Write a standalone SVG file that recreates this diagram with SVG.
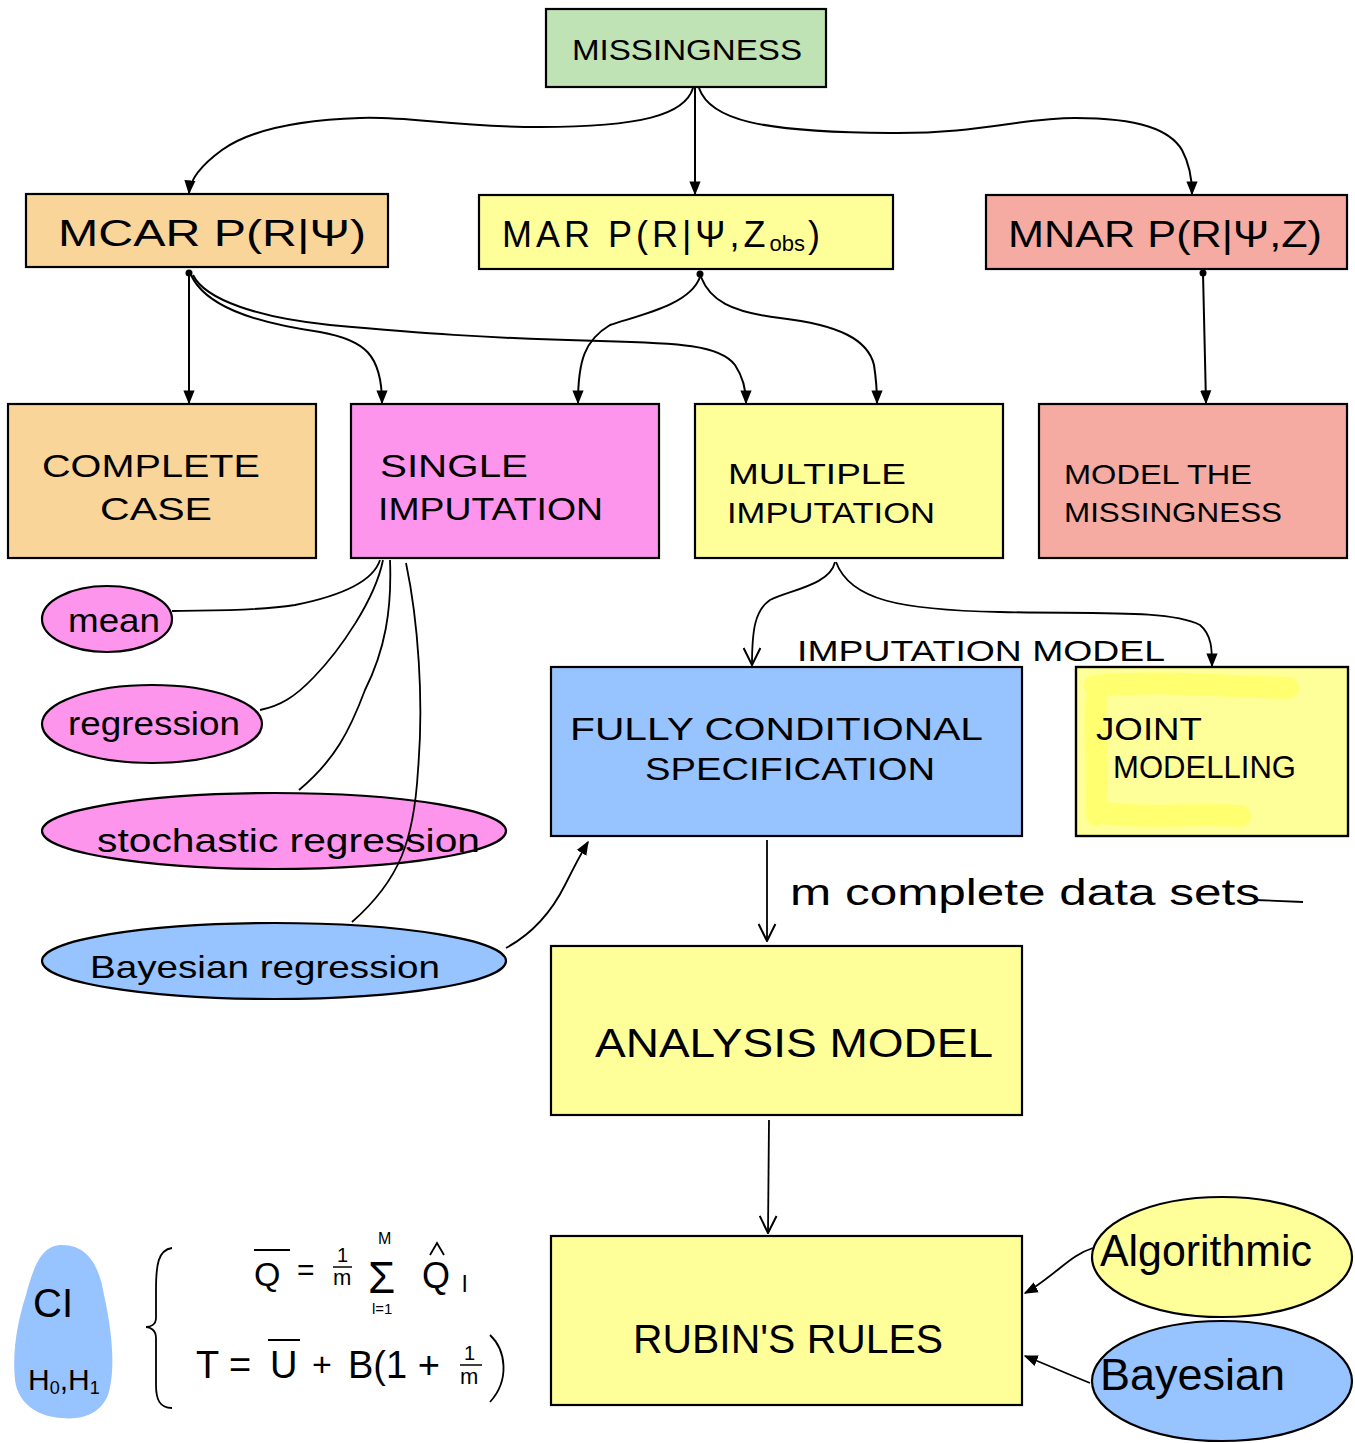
<svg xmlns="http://www.w3.org/2000/svg" width="1355" height="1443" viewBox="0 0 1355 1443">
<style>
.box{stroke:#000;stroke-width:2.2}
.ell{stroke:#000;stroke-width:2.2}
.green{fill:#bfe3b4}.orange{fill:#fad59a}.yellow{fill:#ffff99}.salmon{fill:#f5aba1}.pink{fill:#fe95ec}.blue{fill:#97c3ff}
.t{font-family:"Liberation Sans","DejaVu Sans",sans-serif;fill:#000}
.c{fill:none;stroke:#000;stroke-width:2}
.c2{fill:none;stroke:#000;stroke-width:1.8}
</style>
<defs>
<marker id="af" viewBox="0 0 10 10" refX="9" refY="5" markerWidth="14" markerHeight="14" markerUnits="userSpaceOnUse" orient="auto"><path d="M0,1 L10,5 L0,9 z" fill="#000"/></marker>
<marker id="ao" viewBox="0 0 10 10" refX="9.5" refY="5" markerWidth="20" markerHeight="20" markerUnits="userSpaceOnUse" orient="auto"><path d="M1,0.8 L9.5,5 L1,9.2" fill="none" stroke="#000" stroke-width="1"/></marker>
</defs>
<rect width="1355" height="1443" fill="#fff"/>

<g id="missingness">
<rect class="box green" x="546" y="9" width="280" height="78"/>
<text class="t" x="572" y="60" font-size="30" textLength="230" lengthAdjust="spacingAndGlyphs">MISSINGNESS</text>
</g>
<g id="mcar">
<rect class="box orange" x="26" y="194" width="362" height="73"/>
<text class="t" x="58" y="246" font-size="36" textLength="308" lengthAdjust="spacingAndGlyphs">MCAR  P(R|Ψ)</text>
</g>
<g id="mar">
<rect class="box yellow" x="479" y="195" width="414" height="74"/>
<text class="t" x="502" y="247" font-size="36" letter-spacing="4">MAR  P(R|Ψ,Z<tspan font-size="22" dy="4" letter-spacing="0">obs</tspan><tspan dy="-4" dx="3">)</tspan></text>
</g>
<g id="mnar">
<rect class="box salmon" x="986" y="195" width="361" height="74"/>
<text class="t" x="1008" y="247" font-size="36" textLength="314" lengthAdjust="spacingAndGlyphs">MNAR P(R|Ψ,Z)</text>
</g>
<g id="complete-case">
<rect class="box orange" x="8" y="404" width="308" height="154"/>
<text class="t" x="42" y="477" font-size="32" textLength="218" lengthAdjust="spacingAndGlyphs">COMPLETE</text>
<text class="t" x="100" y="520" font-size="32" textLength="112" lengthAdjust="spacingAndGlyphs">CASE</text>
</g>
<g id="single-imputation">
<rect class="box pink" x="351" y="404" width="308" height="154"/>
<text class="t" x="380" y="477" font-size="32" textLength="148" lengthAdjust="spacingAndGlyphs">SINGLE</text>
<text class="t" x="378" y="520" font-size="32" textLength="225" lengthAdjust="spacingAndGlyphs">IMPUTATION</text>
</g>
<g id="multiple-imputation">
<rect class="box yellow" x="695" y="404" width="308" height="154"/>
<text class="t" x="728" y="484" font-size="30" textLength="178" lengthAdjust="spacingAndGlyphs">MULTIPLE</text>
<text class="t" x="727" y="523" font-size="30" textLength="208" lengthAdjust="spacingAndGlyphs">IMPUTATION</text>
</g>
<g id="model-missingness">
<rect class="box salmon" x="1039" y="404" width="308" height="154"/>
<text class="t" x="1064" y="484" font-size="28" textLength="188" lengthAdjust="spacingAndGlyphs">MODEL THE</text>
<text class="t" x="1064" y="522" font-size="28" textLength="218" lengthAdjust="spacingAndGlyphs">MISSINGNESS</text>
</g>
<g id="mean">
<ellipse class="ell pink" cx="107" cy="619" rx="65" ry="33"/>
<text class="t" x="68" y="632" font-size="34" textLength="92" lengthAdjust="spacingAndGlyphs">mean</text>
</g>
<g id="regression">
<ellipse class="ell pink" cx="152" cy="724" rx="110" ry="39"/>
<text class="t" x="68" y="735" font-size="34" textLength="172" lengthAdjust="spacingAndGlyphs">regression</text>
</g>
<g id="stochastic-regression">
<ellipse class="ell pink" cx="274" cy="831" rx="232" ry="38"/>
<text class="t" x="97" y="852" font-size="34" textLength="383" lengthAdjust="spacingAndGlyphs">stochastic regression</text>
</g>
<g id="bayesian-regression">
<ellipse class="ell blue" cx="274" cy="961" rx="232" ry="38"/>
<text class="t" x="90" y="978" font-size="32" textLength="350" lengthAdjust="spacingAndGlyphs">Bayesian regression</text>
</g>
<g id="fcs">
<rect class="box blue" x="551" y="667" width="471" height="169"/>
<text class="t" x="570" y="740" font-size="32" textLength="413" lengthAdjust="spacingAndGlyphs">FULLY CONDITIONAL</text>
<text class="t" x="645" y="780" font-size="32" textLength="290" lengthAdjust="spacingAndGlyphs">SPECIFICATION</text>
</g>
<g id="joint-modelling">
<rect class="box yellow" x="1076" y="667" width="272" height="169"/>
<path d="M1095,686 C1150,680 1220,686 1288,688 M1096,700 C1094,740 1098,780 1097,815 M1096,812 C1150,820 1200,812 1240,816" stroke="#ffff6a" stroke-width="22" stroke-linecap="round" fill="none" opacity="0.9"/>
<rect x="1076" y="667" width="272" height="169" fill="none" stroke="#000" stroke-width="2.2"/>
<text class="t" x="1096" y="740" font-size="32" textLength="106" lengthAdjust="spacingAndGlyphs">JOINT</text>
<text class="t" x="1113" y="778" font-size="32" textLength="183" lengthAdjust="spacingAndGlyphs">MODELLING</text>
</g>
<g id="analysis-model">
<rect class="box yellow" x="551" y="946" width="471" height="169"/>
<text class="t" x="595" y="1057" font-size="40" textLength="398" lengthAdjust="spacingAndGlyphs">ANALYSIS MODEL</text>
</g>
<g id="rubins-rules">
<rect class="box yellow" x="551" y="1236" width="471" height="169"/>
<text class="t" x="633" y="1353" font-size="40" textLength="310" lengthAdjust="spacingAndGlyphs">RUBIN'S RULES</text>
</g>
<g id="algorithmic">
<ellipse class="ell yellow" cx="1222" cy="1257" rx="130" ry="60"/>
<text class="t" x="1100" y="1266" font-size="44" textLength="212" lengthAdjust="spacingAndGlyphs">Algorithmic</text>
</g>
<g id="bayesian">
<ellipse class="ell blue" cx="1222" cy="1381" rx="130" ry="60"/>
<text class="t" x="1100" y="1390" font-size="44" textLength="185" lengthAdjust="spacingAndGlyphs">Bayesian</text>
</g>

<g id="ci-blob">
<path class="blue" d="M62,1245 C90,1245 100,1270 104,1295 C112,1330 116,1370 108,1395 C100,1415 80,1420 62,1418 C40,1417 18,1405 15,1380 C12,1350 18,1320 26,1295 C34,1265 42,1245 62,1245 Z"/>
<text class="t" x="33" y="1317" font-size="40">CI</text>
<text class="t" x="28" y="1390" font-size="30">H<tspan font-size="18" dy="4">0</tspan><tspan dy="-4">,H</tspan><tspan font-size="18" dy="4">1</tspan></text>
</g>

<g id="formulas">
<path class="c2" d="M172,1248 C158,1250 156,1265 156,1290 L156,1318 C156,1325 150,1327 146,1327 C150,1327 156,1330 156,1338 L156,1385 C156,1400 160,1408 172,1408"/>
<text class="t" x="254" y="1286" font-size="34">Q</text>
<line x1="254" y1="1250" x2="290" y2="1250" stroke="#000" stroke-width="2"/>
<text class="t" x="297" y="1280" font-size="30">=</text>
<text class="t" x="337" y="1262" font-size="20">1</text>
<line x1="333" y1="1267" x2="352" y2="1267" stroke="#000" stroke-width="1.5"/>
<text class="t" x="333" y="1285" font-size="22">m</text>
<text class="t" x="368" y="1293" font-size="44">Σ</text>
<text class="t" x="378" y="1244" font-size="16">M</text>
<text class="t" x="372" y="1314" font-size="15">l=1</text>
<text class="t" x="422" y="1288" font-size="36">Q</text>
<path class="c2" d="M430,1255 L437,1243 L444,1255"/>
<text class="t" x="462" y="1292" font-size="24">l</text>
<text class="t" x="196" y="1378" font-size="38">T =</text>
<text class="t" x="270" y="1378" font-size="38">U</text>
<line x1="268" y1="1340" x2="300" y2="1340" stroke="#000" stroke-width="2"/>
<text class="t" x="312" y="1376" font-size="34">+</text>
<text class="t" x="348" y="1378" font-size="38">B(1 +</text>
<text class="t" x="464" y="1360" font-size="20">1</text>
<line x1="460" y1="1365" x2="482" y2="1365" stroke="#000" stroke-width="1.5"/>
<text class="t" x="460" y="1384" font-size="22">m</text>
<path class="c2" d="M490,1335 C506,1350 510,1380 490,1402"/>
</g>

<g id="connectors">
<path class="c" d="M693,88 C685,115 640,127 540,127 C450,127 410,116 360,118 C300,120 250,130 222,150 C200,166 190,180 189,193" marker-end="url(#af)"/>
<path class="c" d="M695,88 L695,194" marker-end="url(#af)"/>
<path class="c" d="M699,88 C710,120 760,132 890,133 C980,134 1020,118 1075,118 C1140,118 1170,130 1182,150 C1190,165 1192,180 1192,194" marker-end="url(#af)"/>
<circle cx="189" cy="273" r="3.5"/>
<circle cx="700" cy="274" r="3.5"/>
<circle cx="1203" cy="273" r="3.5"/>
<path class="c" d="M189,273 L189,403" marker-end="url(#af)"/>
<path class="c" d="M191,275 C205,305 250,322 320,332 C365,340 382,355 382,403" marker-end="url(#af)"/>
<path class="c" d="M193,275 C205,300 260,318 330,325 C420,333 480,338 600,341 C680,343 720,345 735,365 C745,380 746,395 746,403" marker-end="url(#af)"/>
<path class="c" d="M700,277 C690,305 640,315 610,325 C585,340 578,360 578,403" marker-end="url(#af)"/>
<path class="c" d="M701,277 C710,300 730,312 780,318 C840,325 868,340 874,365 C877,385 877,395 877,403" marker-end="url(#af)"/>
<path class="c" d="M1203,273 L1206,403" marker-end="url(#af)"/>
<path class="c2" d="M835,562 C830,585 790,590 770,600 C755,610 752,630 752,665" marker-end="url(#ao)"/>
<path class="c2" d="M836,562 C850,600 900,610 1000,612 C1100,614 1170,610 1200,625 C1212,635 1212,650 1212,666" marker-end="url(#af)"/>
<path class="c2" d="M380,560 C372,585 330,598 295,605 C250,612 200,610 172,611"/>
<path class="c2" d="M383,560 C375,600 340,650 314,677 C295,697 280,706 260,710"/>
<path class="c2" d="M390,560 C392,610 385,650 365,690 C350,730 335,760 299,790"/>
<path class="c2" d="M406,563 C418,620 424,700 418,770 C414,840 400,880 352,922"/>
<path class="c2" d="M506,948 C530,935 550,915 565,885 C575,865 582,852 588,842" marker-end="url(#af)"/>
<path class="c2" d="M767,840 L767,941" marker-end="url(#ao)"/>
<path class="c2" d="M769,1120 L768,1233" marker-end="url(#ao)"/>
<path class="c2" d="M1093,1248 C1080,1252 1070,1260 1060,1268 C1045,1280 1035,1288 1025,1293" marker-end="url(#af)"/>
<path class="c2" d="M1090,1383 C1070,1375 1045,1364 1025,1356" marker-end="url(#af)"/>
<text class="t" x="797" y="661" font-size="30" textLength="368" lengthAdjust="spacingAndGlyphs">IMPUTATION MODEL</text>
<text class="t" x="790" y="905" font-size="36" textLength="470" lengthAdjust="spacingAndGlyphs">m complete data sets</text>
<path class="c2" d="M1255,900 L1303,902"/>
</g>
</svg>
